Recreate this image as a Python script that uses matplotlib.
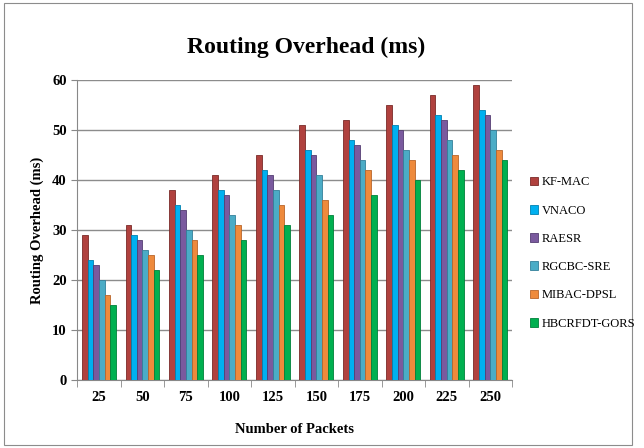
import numpy as np
import matplotlib.pyplot as plt
from matplotlib.patches import Rectangle

packets = ["25", "50", "75", "100", "125", "150", "175", "200", "225", "250"]
methods = ["KF-MAC", "VNACO", "RAESR", "RGCBC-SRE", "MIBAC-DPSL", "HBCRFDT-GORS"]
kf_mac = [29, 31, 38, 41, 45, 51, 52, 55, 57, 59]
vnaco = [24, 29, 35, 38, 42, 46, 48, 51, 53, 54]
raesr = [23, 28, 34, 37, 41, 45, 47, 50, 52, 53]
rgcbc_sre = [20, 26, 30, 33, 38, 41, 44, 46, 48, 50]
mibac_dpsl = [17, 25, 28, 31, 35, 36, 42, 44, 45, 46]
hbcrfdt_gors = [15, 22, 25, 28, 31, 33, 37, 40, 42, 44]
series = [kf_mac, vnaco, raesr, rgcbc_sre, mibac_dpsl, hbcrfdt_gors]
colors = ["#B0413E", "#00B0F0", "#7A5A9E", "#4BACC6", "#EE8A3C", "#00B050"]
edges = ["#7A2A28", "#0080B0", "#553E72", "#33809A", "#B8652A", "#00803A"]

plt.rcParams['font.family'] = ['Liberation Serif', 'DejaVu Serif']

fig = plt.figure(figsize=(6.44, 4.48), dpi=100)
ax = fig.add_axes([0.12, 0.152, 0.675, 0.669])

x = np.arange(len(packets))
w = 0.13
for i, (vals, c, ec) in enumerate(zip(series, colors, edges)):
    ax.bar(x + (i - 2.5) * w, vals, w, color=c, edgecolor=ec, linewidth=0.6,
           label=methods[i], zorder=3)

ax.set_xlim(-0.5, len(packets) - 0.5)
ax.set_ylim(0, 60)
ax.set_yticks(range(0, 61, 10))
ax.set_xticks(x)
ax.set_xticklabels(packets)
ax.set_xticks(np.arange(-0.5, len(packets), 1), minor=True)
ax.tick_params(axis='x', which='major', length=0, pad=8)
ax.tick_params(axis='x', which='minor', length=5, color='#888888')
ax.tick_params(axis='y', length=4, color='#888888')
for lab in ax.get_xticklabels() + ax.get_yticklabels():
    lab.set_fontweight('bold')
    lab.set_fontsize(10.5)
ax.yaxis.grid(True, color='#8C8C8C', linewidth=1.0, zorder=0)
for s in ['top', 'right']:
    ax.spines[s].set_visible(False)
ax.spines['left'].set_color('#888888')
ax.spines['bottom'].set_color('#888888')

ax.set_ylabel("Routing Overhead (ms)", fontsize=10.5, fontweight='bold', labelpad=6)
ax.set_xlabel("Number of Packets", fontsize=10.5, fontweight='bold', labelpad=14)
fig.text(0.475, 0.895, "Routing Overhead (ms)", ha='center', va='center',
         fontsize=17, fontweight='bold')

leg = fig.legend(loc='center left', bbox_to_anchor=(0.805, 0.435), frameon=False,
                 fontsize=9, handlelength=0.7, handleheight=0.7, labelspacing=1.3,
                 handletextpad=0.3)

fig.patches.append(Rectangle((0.006, 0.006), 0.975, 0.988, transform=fig.transFigure,
                             fill=False, edgecolor='#8C8C8C', linewidth=0.8))

fig.savefig("out.png", dpi=100)
